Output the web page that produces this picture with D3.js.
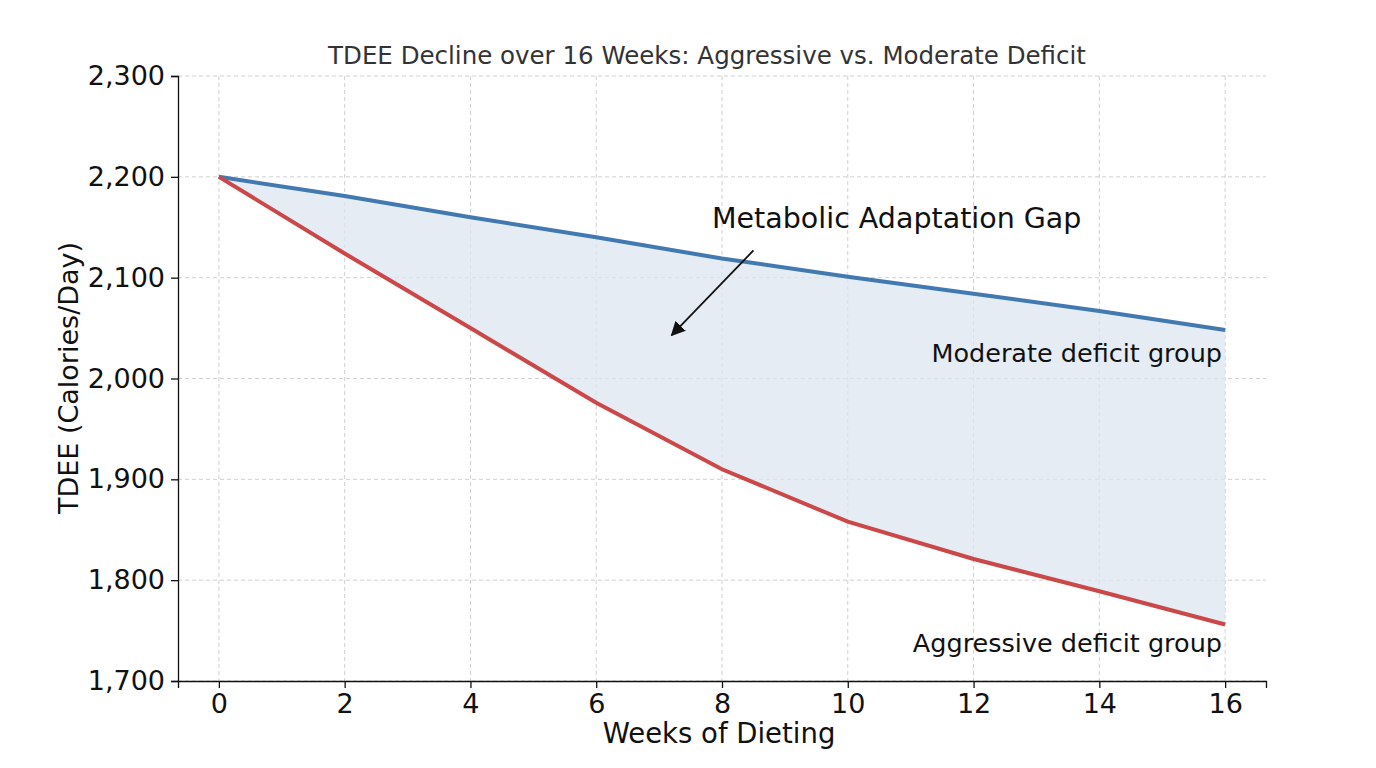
<!DOCTYPE html>
<html><head><meta charset="utf-8">
<script src="https://cdn.jsdelivr.net/npm/d3@7"></script>
<style>body{margin:0;background:#fff;font-family:"DejaVu Sans",sans-serif;}</style>
</head><body><div id="chart"></div>
<script>
var weeks = [0, 2, 4, 6, 8, 10, 12, 14, 16];
var moderate = [2200, 2181, 2160, 2140, 2119, 2101, 2084, 2067, 2048];
var aggressive = [2200, 2124, 2050, 1976, 1910, 1858, 1821, 1789, 1756];
var yTicks = [1700, 1800, 1900, 2000, 2100, 2200, 2300];

var W = 1376, H = 768;
var svg = d3.select("#chart").append("svg").attr("width", W).attr("height", H);

var x = d3.scaleLinear().domain([-0.65, 16.65]).range([178, 1266]);
var y = d3.scaleLinear().domain([1700, 2300]).range([681, 76]);

// grid
svg.append("g").selectAll("line").data(weeks).enter().append("line")
  .attr("x1", d => x(d)).attr("x2", d => x(d)).attr("y1", 76).attr("y2", 681)
  .attr("stroke", "#d0d0d0").attr("stroke-dasharray", "4,3");
svg.append("g").selectAll("line").data(yTicks).enter().append("line")
  .attr("x1", 178).attr("x2", 1266).attr("y1", d => y(d)).attr("y2", d => y(d))
  .attr("stroke", "#d0d0d0").attr("stroke-dasharray", "4,3");

// gap area
var data = weeks.map((w, i) => ({w: w, m: moderate[i], a: aggressive[i]}));
svg.append("path").datum(data)
  .attr("d", d3.area().x(d => x(d.w)).y0(d => y(d.a)).y1(d => y(d.m)))
  .attr("fill", "#dce6f0").attr("opacity", 0.75);

var line = d3.line().x(d => x(d[0])).y(d => y(d[1]));
svg.append("path").datum(weeks.map((w, i) => [w, moderate[i]]))
  .attr("d", line).attr("fill", "none").attr("stroke", "#4279b0").attr("stroke-width", 4);
svg.append("path").datum(weeks.map((w, i) => [w, aggressive[i]]))
  .attr("d", line).attr("fill", "none").attr("stroke", "#cc4747").attr("stroke-width", 4);

// axes
var xa = svg.append("g").attr("transform", "translate(0,681)")
  .call(d3.axisBottom(x).tickValues(weeks).tickSize(7).tickPadding(6));
var ya = svg.append("g").attr("transform", "translate(178,0)")
  .call(d3.axisLeft(y).tickValues(yTicks).tickSize(7).tickPadding(6).tickFormat(d3.format(",")));
[xa, ya].forEach(a => {
  a.selectAll("text").attr("font-size", 27).attr("fill", "#111").attr("font-family", "DejaVu Sans");
  a.selectAll("path,line").attr("stroke", "#111").attr("stroke-width", 1.3);
});

svg.append("text").attr("x", 707).attr("y", 64).attr("text-anchor", "middle")
  .attr("font-size", 24.5).attr("fill", "#333").text("TDEE Decline over 16 Weeks: Aggressive vs. Moderate Deficit");
svg.append("text").attr("x", 719).attr("y", 743).attr("text-anchor", "middle")
  .attr("font-size", 27.5).attr("fill", "#111").text("Weeks of Dieting");
svg.append("text").attr("transform", "translate(78,378) rotate(-90)").attr("text-anchor", "middle")
  .attr("font-size", 27).attr("fill", "#111").text("TDEE (Calories/Day)");

// annotation
svg.append("defs").append("marker").attr("id", "arr").attr("viewBox", "0 0 10 10")
  .attr("refX", 9).attr("refY", 5).attr("markerWidth", 8).attr("markerHeight", 8).attr("orient", "auto")
  .append("path").attr("d", "M0,0L10,5L0,10z").attr("fill", "#111");
svg.append("line").attr("x1", x(8.5)).attr("y1", y(2127)).attr("x2", x(7.2)).attr("y2", y(2043))
  .attr("stroke", "#111").attr("stroke-width", 1.8).attr("marker-end", "url(#arr)");
svg.append("text").attr("x", 712).attr("y", 228).attr("font-size", 28.5).attr("fill", "#111")
  .text("Metabolic Adaptation Gap");
svg.append("text").attr("x", 1222).attr("y", 362).attr("text-anchor", "end")
  .attr("font-size", 25.5).attr("fill", "#111").text("Moderate deficit group");
svg.append("text").attr("x", 1222).attr("y", 652).attr("text-anchor", "end")
  .attr("font-size", 25.5).attr("fill", "#111").text("Aggressive deficit group");
</script></body></html>
